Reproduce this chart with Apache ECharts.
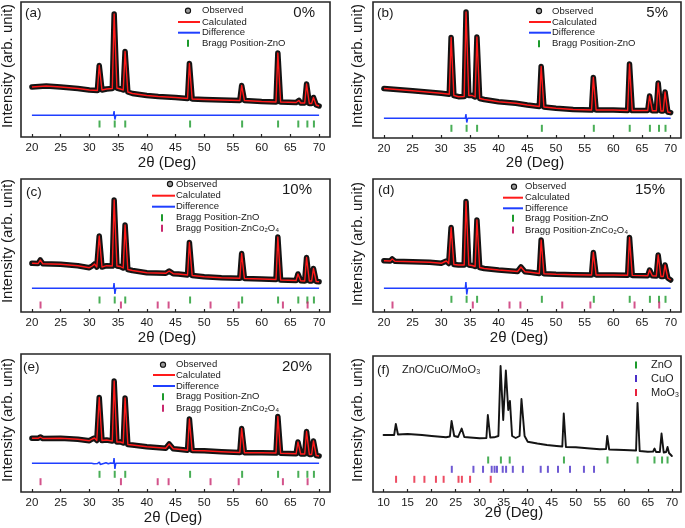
<!DOCTYPE html>
<html><head><meta charset="utf-8">
<script src="https://cdn.jsdelivr.net/npm/echarts@6/dist/echarts.min.js"></script>
<style>html,body{margin:0;padding:0;background:#fff}#c{width:685px;height:528px}</style>
</head><body><div id="c"></div>
<script>
// ---- tick labels ----
const xTicks = [20,25,30,35,40,45,50,55,60,65,70];
const xTicksF = [10,15,20,25,30,35,40,45,50,55,60,65,70];
const panelLabels = ['(a)','(b)','(c)','(d)','(e)','(f)'];
const dopings = ['0%','5%','10%','15%','20%'];

// ---- Bragg positions (2θ, deg) ----
const braggZnO = [31.77,34.42,36.25,47.54,56.6,62.86,66.38,67.96,69.1];
const braggZnCo2O4 = [21.5,35.5,41.9,43.8,51.1,56.0,63.7,68.0];
const braggCuO = [24.2,28.7,30.7,32.5,33.1,33.6,34.8,35.5,36.9,39.0,42.7,44.2,46.3,48.8,51.7,53.8];
const braggMoO3 = [12.6,16.4,18.5,20.9,22.5,25.6,26.3,28.0,32.3];

// ---- observed patterns [2θ, intensity] ----
const obsA = [[20,50],[22.5,51],[25,50],[28,48.5],[30,47],[31.4,46.5],[31.72,71.5],[31.88,71.5],[32.2,47],[33,48],[34,48.5],[34.32,123],[34.48,123],[34.8,49],[35.4,48],[35.9,47],[36.22,85.5],[36.38,85.5],[36.7,45],[37.5,43.5],[40,41.5],[42,40.5],[45,39.5],[47.1,38.5],[47.42,73.5],[47.58,73.5],[47.9,38],[50,37.5],[53,37],[56.2,36.5],[56.52,51.5],[56.68,51.5],[57,36.5],[60,35.5],[62.5,35],[62.82,84],[62.98,84],[63.3,35],[66,34.5],[66.32,36.5],[66.48,36.5],[66.8,34],[67.5,34],[67.82,53],[67.98,53],[68.3,33.5],[68.7,33.5],[69.02,39.5],[69.18,39.5],[69.5,32],[70,31]];
const obsB = [[20,49.5],[25,47.3],[28,45.8],[30,44.7],[31.4,43.8],[31.72,100.5],[31.88,100.5],[32.2,42.5],[33,41.3],[34,41.5],[34.32,126],[34.48,126],[34.8,42.5],[35.4,42.5],[35.9,41],[36.22,101],[36.38,101],[36.7,39.5],[37.5,38.5],[40,36.3],[43,34.7],[45,33],[47.1,31.5],[47.42,71.5],[47.58,71.5],[47.9,31],[50,29.7],[53,28.5],[56.2,28],[56.52,60.5],[56.68,60.5],[57,28],[60,28],[62.5,27.5],[62.82,74],[62.98,74],[63.3,27.5],[66,27.5],[66.32,42],[66.48,42],[66.8,27.3],[67.5,27.3],[67.82,55],[67.98,55],[68.3,27],[68.7,27],[69.02,46],[69.18,46],[69.5,26],[70,25.3]];
const obsC = [[20,48.7],[21.1,48.5],[21.45,52],[21.55,52],[21.9,48.2],[25,47.7],[28,46.3],[30,44.3],[30.5,46],[30.9,48],[31.3,45],[31.5,45],[31.72,76],[31.88,76],[32.2,45],[33,46.3],[34,46],[34.32,112],[34.48,112],[34.8,46],[35.4,45.5],[35.9,44],[36.22,87],[36.38,87],[36.7,42.5],[37.5,41.5],[40,39.3],[43.3,38.7],[43.9,41],[44.1,41],[44.6,38.3],[45.5,38],[47.1,37],[47.42,69.5],[47.58,69.5],[47.9,36.5],[50,35.3],[53,34.3],[56.2,33.7],[56.52,58.5],[56.68,58.5],[57,33.5],[60,33],[62.5,32.5],[62.82,75],[62.98,75],[63.3,32],[66,31.5],[66.32,38],[66.48,38],[66.8,31.2],[67.5,31],[67.82,54.5],[67.98,54.5],[68.3,31],[68.7,31],[69.02,43.5],[69.18,43.5],[69.5,30.5],[70,30.3]];
const obsD = [[20,51.3],[21.1,51],[21.45,53],[21.55,53],[21.9,50.8],[25,50.3],[28,49.7],[30,48.7],[30.5,50],[30.9,51],[31.3,48.5],[31.5,48.5],[31.72,84.5],[31.88,84.5],[32.2,47.5],[33,47],[34,47],[34.32,110.5],[34.48,110.5],[34.8,47],[35.4,46.5],[35.9,45.5],[36.22,92],[36.38,92],[36.7,44.5],[37.5,43.5],[40,42],[43.3,40.5],[43.9,45],[44.1,45],[44.6,40.2],[45.5,39.7],[47.1,38.5],[47.42,72],[47.58,72],[47.9,38.3],[50,37.7],[53,37.3],[56.2,37],[56.52,59.5],[56.68,59.5],[57,37],[60,37],[62.5,36.8],[62.82,74.5],[62.98,74.5],[63.3,36.6],[66,36.3],[66.32,42],[66.48,42],[66.8,36.2],[67.5,36],[67.82,57],[67.98,57],[68.3,35.5],[68.7,35.5],[69.02,47],[69.18,47],[69.5,34],[70,32]];
const obsE = [[20,53.7],[21.1,53.7],[21.45,55],[21.55,55],[21.9,53.5],[25,53.7],[28,52.7],[30,51.3],[30.5,53],[30.9,54],[31.3,51.5],[31.5,51.5],[31.72,94.5],[31.88,94.5],[32.2,51.5],[33,52],[34,51],[34.32,111],[34.48,111],[34.8,50],[35.4,50],[35.9,49],[36.22,94],[36.38,94],[36.7,47.5],[37.5,47],[40,45.3],[43.3,43.7],[43.9,48],[44.1,48],[44.6,43.3],[45.5,42.7],[47.1,41.8],[47.42,73],[47.58,73],[47.9,41.5],[50,41.3],[53,40.3],[56.2,39.5],[56.52,63.5],[56.68,63.5],[57,39.3],[60,39.3],[62.5,39],[62.82,75.5],[62.98,75.5],[63.3,38.8],[66,38.2],[66.32,50],[66.48,50],[66.8,38],[67.5,38],[67.82,60.5],[67.98,60.5],[68.3,37.5],[68.7,37.5],[69.02,51],[69.18,51],[69.5,36.5],[70,36]];
const obsF = [[10,57],[12.2,57],[12.55,68],[12.7,68],[13,57.5],[15,58],[18,57],[20,56],[23,54.7],[23.8,55.5],[24.15,71],[24.3,71],[24.7,56],[25.5,55],[25.9,55],[26.25,63.5],[26.4,63.5],[26.8,55],[28,54.5],[30,53.7],[31.4,54],[31.7,77],[31.85,77],[32.2,54.5],[33,54.7],[33.9,56],[34.35,126],[34.5,126],[34.9,72],[35.45,121.5],[35.6,121.5],[35.95,82],[36.3,91],[36.75,56],[37.5,54],[38.3,56],[38.7,93],[38.95,94],[39.35,56],[40,50.3],[42,48.5],[44,47],[46,46],[47.2,45.5],[47.5,78.5],[47.65,78.5],[47.95,45],[50,44.7],[53,43.5],[55,42.7],[56.3,43],[56.55,56],[56.7,56],[56.95,42.5],[60,42],[62.55,41.5],[62.85,89],[63,89],[63.3,41],[65,40.3],[66.1,40.5],[66.4,43.5],[66.7,40],[67.5,40],[67.85,58.5],[68,58.5],[68.3,39.5],[68.8,40],[69.1,45],[69.4,39],[70,36]];

// ---- calculated (Rietveld fit, coincides with observed at this scale) ----
const calcA = obsA, calcB = obsB, calcC = obsC, calcD = obsD, calcE = obsE;

// ---- difference curves ----
const diffA = [[20,21.7],[31.6,21.7],[31.75,23],[31.9,20.5],[32.1,21.7],[34.2,21.7],[34.3,26],[34.45,17.5],[34.6,21.7],[36.15,21.7],[36.25,23],[36.4,20.7],[36.55,21.7],[62.75,21.7],[62.85,23],[63,20.5],[63.1,21.7],[70,21.7]];
const diffB = [[20,19.7],[31.6,19.7],[31.75,21.5],[31.9,18],[32.1,19.7],[34.2,19.7],[34.3,24],[34.45,15.5],[34.6,19.7],[36.15,19.7],[36.25,21.5],[36.4,18],[36.55,19.7],[47.4,19.7],[47.5,20.7],[47.6,19],[47.7,19.7],[56.5,19.7],[56.6,20.5],[56.7,19.2],[62.8,19.7],[62.9,20.5],[63,19.2],[70,19.7]];
const diffC = [[20,23.7],[31.6,23.7],[31.75,25.5],[31.9,22],[32.1,23.7],[34.2,23.7],[34.3,29],[34.45,18],[34.6,23.7],[36.15,23.7],[36.25,25.5],[36.4,22],[36.55,23.7],[47.4,23.7],[47.5,24.7],[47.6,23],[47.7,23.7],[56.5,23.7],[56.6,24.7],[56.7,23],[62.75,23.7],[62.85,25],[63,22.3],[63.1,23.7],[70,23.7]];
const diffD = [[20,23.7],[31.6,23.7],[31.75,25.5],[31.9,22],[32.1,23.7],[34.2,23.7],[34.3,30],[34.45,17.5],[34.6,23.7],[36.15,23.7],[36.25,25.5],[36.4,22],[36.55,23.7],[47.4,23.7],[47.5,24.5],[47.6,23],[47.7,23.7],[70,23.7]];
const diffE = [[20,28.7],[30.4,28.7],[30.6,29.7],[30.8,28.2],[31.1,29.3],[31.4,28.4],[31.75,30],[31.9,27.5],[32.1,28.7],[32.9,29.3],[33.3,28.2],[33.7,29],[34.2,28.7],[34.3,34],[34.45,23],[34.6,28.7],[36.15,28.7],[36.25,30],[36.4,27.5],[36.55,28.7],[47.4,28.7],[47.5,30.2],[47.6,27.3],[47.7,28.7],[62.8,28.7],[62.9,29.5],[63,28],[70,28.7]];

// ---- styling / layout ----
const FONT = '"Liberation Sans", Arial, sans-serif';
const C_OBS = '#141414', C_CALC = '#ff1a1a', C_DIFF = '#1f3fff', C_GREEN = '#1c9a2c', C_PINK = '#c8286e', C_CUO = '#4a2fc8', C_MOO = '#e8203c';

const panels = [
  {grid:{left:21,top:2,width:309,height:135}, xmin:18.1,xmax:71.9, ticks:xTicks, obs:obsA, calc:calcA, diff:diffA,
   rows:[{x:braggZnO,y:13,c:C_GREEN}]},
  {grid:{left:373,top:2,width:308,height:136}, xmin:18.1,xmax:71.8, ticks:xTicks, obs:obsB, calc:calcB, diff:diffB,
   rows:[{x:braggZnO,y:9.7,c:C_GREEN}]},
  {grid:{left:21,top:179,width:309,height:133}, xmin:18.1,xmax:71.9, ticks:xTicks, obs:obsC, calc:calcC, diff:diffC,
   rows:[{x:braggZnO,y:12,c:C_GREEN},{x:braggZnCo2O4,y:7,c:C_PINK}]},
  {grid:{left:373,top:179,width:308,height:133}, xmin:18.1,xmax:71.8, ticks:xTicks, obs:obsD, calc:calcD, diff:diffD,
   rows:[{x:braggZnO,y:12.7,c:C_GREEN},{x:braggZnCo2O4,y:7,c:C_PINK}]},
  {grid:{left:21,top:354,width:309,height:138}, xmin:18.1,xmax:71.9, ticks:xTicks, obs:obsE, calc:calcE, diff:diffE,
   rows:[{x:braggZnO,y:17.7,c:C_GREEN},{x:braggZnCo2O4,y:10.3,c:C_PINK}]},
  {grid:{left:373,top:356,width:308,height:136}, xmin:7.8,xmax:71.9, ticks:xTicksF, obs:obsF, calc:null, diff:null,
   rows:[{x:braggZnO,y:32,c:C_GREEN},{x:braggCuO,y:22.7,c:C_CUO},{x:braggMoO3,y:12.7,c:C_MOO}]}
];

const grids=[], xAxes=[], yAxes=[], series=[];
panels.forEach((p,i)=>{
  grids.push(Object.assign({show:true, borderColor:'#262626', borderWidth:1.6, backgroundColor:'#fff', containLabel:false, outerBoundsMode:'none'}, p.grid));
  xAxes.push({type:'value', gridIndex:i, min:p.xmin, max:p.xmax,
    axisLine:{show:false}, splitLine:{show:false},
    axisTick:{show:true, inside:true, length:3, customValues:p.ticks, lineStyle:{color:'#222', width:1.2}},
    axisLabel:{show:true, customValues:p.ticks, margin:5, fontSize:11.5, fontFamily:FONT, color:'#1a1a1a'}});
  yAxes.push({type:'value', gridIndex:i, min:0, max:p.grid.height, show:false});
  series.push({type:'line', xAxisIndex:i, yAxisIndex:i, data:p.obs, showSymbol:false, silent:true, z:2,
    lineStyle:{color:C_OBS, width: i===5?1.9:5.5, join:'round', cap:'round'}});
  if(p.calc) series.push({type:'line', xAxisIndex:i, yAxisIndex:i, data:p.calc, showSymbol:false, silent:true, z:3,
    lineStyle:{color:C_CALC, width:1.4, join:'round'}});
  if(p.diff) series.push({type:'line', xAxisIndex:i, yAxisIndex:i, data:p.diff, showSymbol:false, silent:true, z:3,
    lineStyle:{color:C_DIFF, width:1.5}});
  p.rows.forEach(r=>{
    series.push({type:'scatter', xAxisIndex:i, yAxisIndex:i, silent:true, z:4,
      data:r.x.map(v=>[v, r.y]), symbol:'rect', symbolSize:[2,7], itemStyle:{color:r.c}});
  });
});

// ---- text & legend graphics ----
const g = [];
function txt(x,y,t,size,opts){
  const o = Object.assign({align:'left', vAlign:'middle', rot:0, color:'#1a1a1a'}, opts||{});
  g.push({type:'text', x:x, y:y, rotation:o.rot, z:100, silent:true,
    style:{text:t, font: size+'px '+FONT, fill:o.color, align:o.align, textAlign:o.align, verticalAlign:o.vAlign, textVerticalAlign:o.vAlign}});
}
function circ(x,y){ g.push({type:'circle', z:100, silent:true, shape:{cx:x,cy:y,r:2.6}, style:{fill:'#9a9a9a', stroke:'#111', lineWidth:1.1}}); }
function seg(x1,x2,y,c){ g.push({type:'line', z:100, silent:true, shape:{x1:x1,y1:y,x2:x2,y2:y}, style:{stroke:c, lineWidth:2}}); }
function tick(x,y,c){ g.push({type:'rect', z:100, silent:true, shape:{x:x-1,y:y-3.5,width:2,height:7}, style:{fill:c}}); }

const LF = 9.5;
function legend(symX, lineX1, lineX2, textX, ys, tickX, twoPhase){
  circ(symX, ys[0]); txt(textX, ys[0], 'Observed', LF);
  seg(lineX1, lineX2, ys[1], C_CALC); txt(textX, ys[1], 'Calculated', LF);
  seg(lineX1, lineX2, ys[2], C_DIFF); txt(textX, ys[2], 'Difference', LF);
  tick(tickX, ys[3], C_GREEN); txt(textX, ys[3], 'Bragg Position-ZnO', LF);
  if(twoPhase){ tick(tickX, ys[4], C_PINK); txt(textX, ys[4], 'Bragg Position-ZnCo\u2082O\u2084', LF); }
}
legend(188, 178, 200, 202, [10.7,22,32.7,43.3], 188, false);
legend(539, 529, 551, 552, [11,22,32.7,43.7], 539, false);
legend(170, 152, 175, 176, [184,195.7,206.7,217.7,228.3], 162, true);
legend(514, 503, 523, 525, [186.7,197.7,208.3,218.3,230], 513, true);
legend(163, 153, 175, 176, [364.7,375,386,396.7,408.3], 163, true);
// (f) legend
tick(636, 365, C_GREEN); txt(651, 365, 'ZnO', 11);
tick(636, 378.5, C_CUO); txt(651, 378.5, 'CuO', 11);
tick(636, 392.5, C_MOO); txt(651, 392.5, 'MoO\u2083', 11);
txt(402, 370, 'ZnO/CuO/MoO\u2083', 11);

// panel labels
const labPos = [[25,13],[377,13],[26,192],[378,190],[23,367],[377,370]];
labPos.forEach((p,i)=>txt(p[0],p[1],panelLabels[i],13.5));
// doping percentages (right aligned)
const pctPos = [[315,13],[668,13],[312,190],[665,190],[312,367]];
pctPos.forEach((p,i)=>txt(p[0],p[1],dopings[i],15,{align:'right'}));
// axis titles
const xNamePos = [[167,163],[535,163],[167,338],[519,338],[173,518],[514,513]];
xNamePos.forEach(p=>txt(p[0],p[1],'2\u03b8 (Deg)',15,{align:'center'}));
const yNamePos = [[8,66],[358,66],[8,241],[358,244],[8,420],[358,420]];
yNamePos.forEach(p=>txt(p[0],p[1],'Intensity (arb. unit)',15,{align:'center', rot:Math.PI/2}));

const chart = echarts.init(document.getElementById('c'), null, {renderer:'canvas'});
chart.setOption({animation:false, backgroundColor:'#fff', grid:grids, xAxis:xAxes, yAxis:yAxes, series:series, graphic:{elements:g}});
</script></body></html>
